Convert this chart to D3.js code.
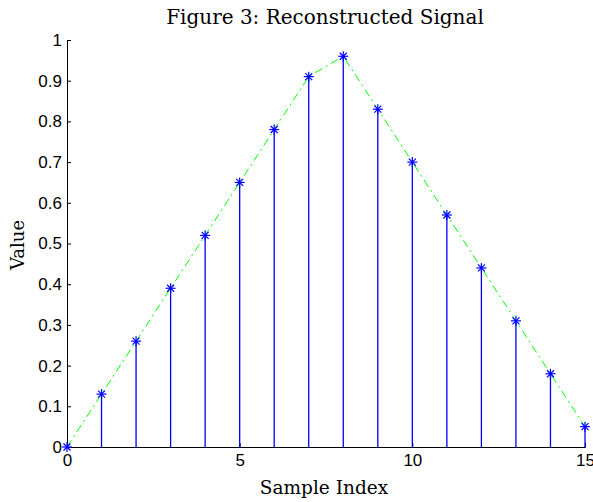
<!DOCTYPE html>
<html>
<head>
<meta charset="utf-8">
<script src="https://cdn.jsdelivr.net/npm/d3@7"></script>
<style>
  body { margin: 0; background: #fff; }
  svg text { fill: #000; }
  .tick text { font-family: Arial, "Liberation Sans", sans-serif !important; font-size: 17px !important; }
</style>
</head>
<body>
<div id="chart"></div>
<script>
// data
const sampleIndex = [0, 1, 2, 3, 4, 5, 6, 7, 8, 9, 10, 11, 12, 13, 14, 15];
const signalValues = [0, 0.13, 0.26, 0.39, 0.52, 0.65, 0.78, 0.91, 0.96, 0.83, 0.70, 0.57, 0.44, 0.31, 0.18, 0.05];
const xTicks = [0, 5, 10, 15];
const yTicks = [0, 0.1, 0.2, 0.3, 0.4, 0.5, 0.6, 0.7, 0.8, 0.9, 1];

const width = 593, height = 502;
const margin = { left: 67, top: 40 };

const svg = d3.select("#chart").append("svg")
  .attr("width", width)
  .attr("height", height);

const x = d3.scaleLinear().domain([0, 15]).range([margin.left, 585]);
const y = d3.scaleLinear().domain([0, 1]).range([447, margin.top]);

// axes (left + bottom only, ticks inward)
const yAxis = svg.append("g")
  .attr("transform", `translate(${margin.left},0)`)
  .call(d3.axisLeft(y).tickValues(yTicks).tickSize(-4).tickPadding(5)
    .tickFormat(d => d === 0 ? "0" : d === 1 ? "1" : d3.format(".1f")(d)));
const xAxis = svg.append("g")
  .attr("transform", `translate(0,447)`)
  .call(d3.axisBottom(x).tickValues(xTicks).tickSize(-4).tickPadding(7));

[yAxis, xAxis].forEach(g => {
  g.select(".domain").attr("stroke", "#000").attr("stroke-width", 1);
  g.selectAll(".tick line").attr("stroke", "#000");
});

// reconstructed line (green dash-dot)
svg.append("path")
  .datum(sampleIndex)
  .attr("fill", "none")
  .attr("stroke", "#00ff00")
  .attr("stroke-width", 1)
  .attr("stroke-dasharray", "8,4,2,4")
  .attr("d", d3.line().x(i => x(i)).y(i => y(signalValues[i])));

// stems
svg.append("g").selectAll("line")
  .data(sampleIndex)
  .enter()
  .append("line")
  .attr("x1", i => x(i)).attr("x2", i => x(i))
  .attr("y1", y(0)).attr("y2", i => y(signalValues[i]))
  .attr("stroke", "#0000ff")
  .attr("stroke-width", 1.3);

// asterisk markers
const star = svg.append("g").selectAll("g")
  .data(sampleIndex)
  .enter()
  .append("g")
  .attr("transform", i => `translate(${x(i)},${y(signalValues[i])})`);
[[-5, 0, 5, 0], [0, -5, 0, 5], [-3.5, -3.5, 3.5, 3.5], [-3.5, 3.5, 3.5, -3.5]].forEach(s => {
  star.append("line")
    .attr("x1", s[0]).attr("y1", s[1]).attr("x2", s[2]).attr("y2", s[3])
    .attr("stroke", "#0000ff")
    .attr("stroke-width", 1.2);
});

// titles
const serif = "'DejaVu Serif', 'Liberation Serif', serif";
svg.append("text")
  .attr("x", 325).attr("y", 24)
  .attr("text-anchor", "middle")
  .style("font-family", serif).style("font-size", "20px")
  .text("Figure 3: Reconstructed Signal");
svg.append("text")
  .attr("x", 324).attr("y", 494)
  .attr("text-anchor", "middle")
  .style("font-family", serif).style("font-size", "18.5px")
  .text("Sample Index");
svg.append("text")
  .attr("transform", "translate(24,245) rotate(-90)")
  .attr("text-anchor", "middle")
  .style("font-family", serif).style("font-size", "18px")
  .text("Value");
</script>
</body>
</html>
